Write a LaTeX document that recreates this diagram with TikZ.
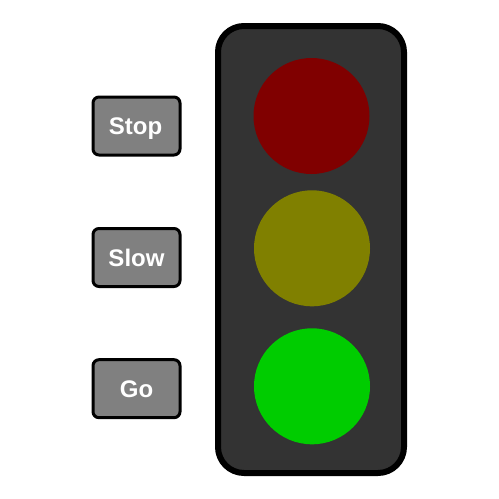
\documentclass[tikz,border=0pt]{standalone}
\usepackage{fontspec}
\setmainfont{Liberation Sans}
\definecolor{bodyc}{HTML}{333333}
\definecolor{redc}{HTML}{800000}
\definecolor{yelc}{HTML}{808000}
\definecolor{grnc}{HTML}{00CC00}
\definecolor{btnc}{HTML}{808080}
\begin{document}
\begin{tikzpicture}[x=1pt,y=-1pt,
  housing/.style={draw=black,line width=6pt,fill=bodyc,rounded corners=26pt},
  lamp/.style={circle,minimum size=116pt,inner sep=0pt,draw=none},
  btn/.style={draw=black,line width=3pt,fill=btnc,rounded corners=6pt,minimum width=87pt,minimum height=58pt,inner sep=0pt},
  lbl/.style={text=white,font=\fontsize{24}{24}\selectfont\bfseries,anchor=base,inner sep=0pt}]
\useasboundingbox (0,0) rectangle (499,499);
\draw[housing] (218,26) rectangle (404,473);
\node[lamp,fill=redc] (red) at (311.5,116) {};
\node[lamp,fill=yelc] (yellow) at (312,248.3) {};
\node[lamp,fill=grnc] (green) at (312,386.3) {};
\node[btn] (stop) at (136.5,126) {};
\node[btn] (slow) at (136.5,257.5) {};
\node[btn] (go) at (136.5,388.7) {};
\node[lbl] (stopt) at (135.5,134.5) {Stop};
\node[lbl] (slowt) at (136.5,266) {Slow};
\node[lbl] (got) at (136.5,397.2) {Go};
\end{tikzpicture}
\end{document}
